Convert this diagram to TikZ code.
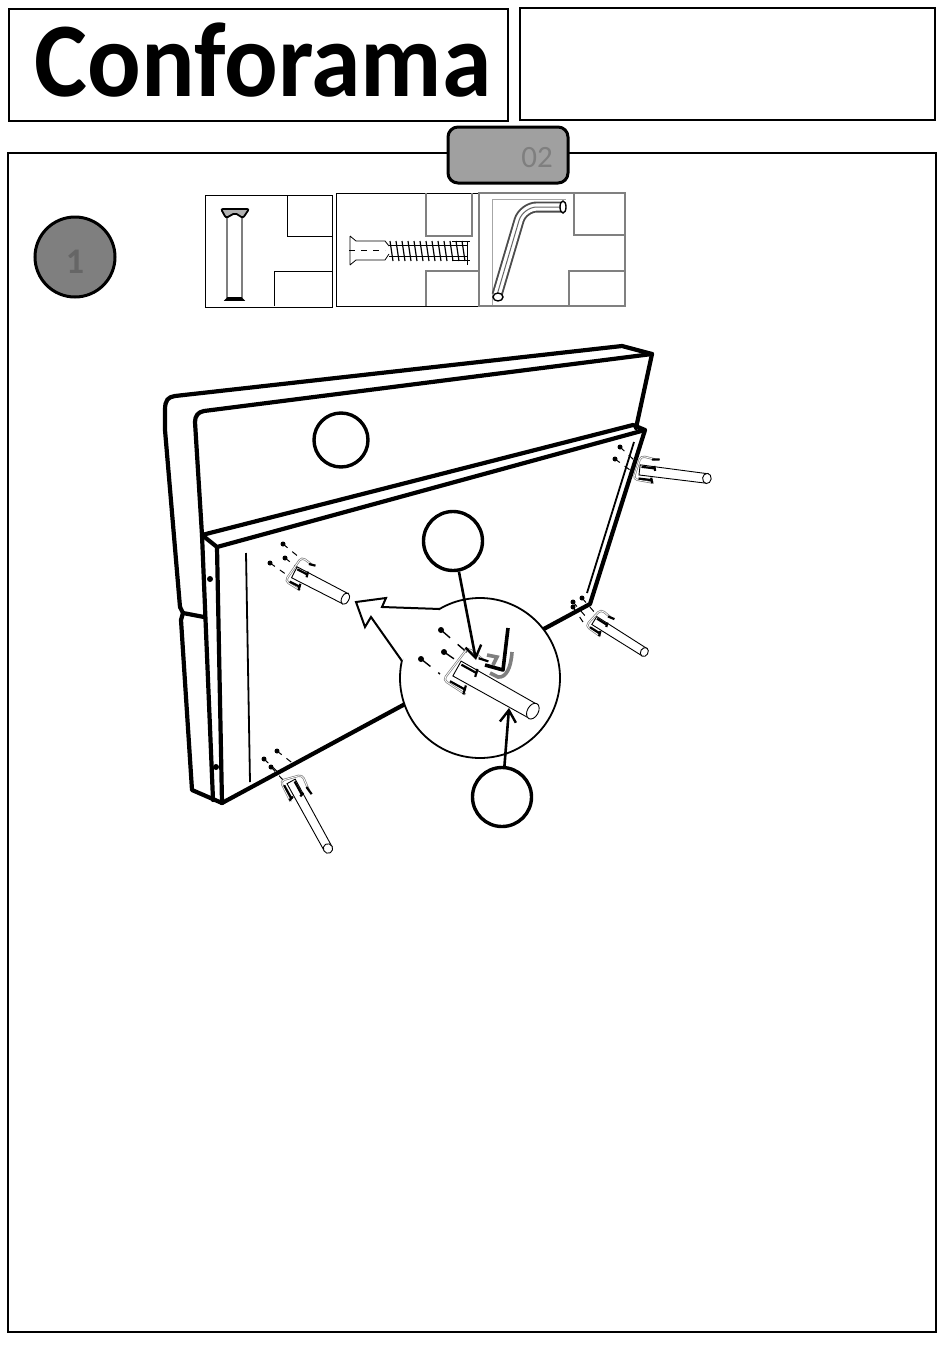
\documentclass[tikz,border=0pt]{standalone}
\usepackage{fontspec}
\setmainfont{Carlito}
\usetikzlibrary{arrows.meta}
\definecolor{darkgrey}{HTML}{7F7F7F}
\definecolor{midgrey}{HTML}{A0A0A0}
\tikzset{
  frame/.style={draw,line width=1.3pt},
  partbox/.style={draw,line width=0.5pt},
  partbox2/.style={draw=gray,line width=0.7pt},
  edge/.style={line width=2.1pt,line join=round,line cap=round},
  marker/.style={circle,draw,line width=1.7pt,fill=white,minimum size=29.5pt,inner sep=0pt},
  pointer/.style={line width=1.3pt,-{Straight Barb[length=6pt,width=8pt,line width=1.2pt]}},
  pics/legpart/.style={code={
    \draw[fill=white,line width=0.45pt] (2,-9) -- (90,-8) -- (88,8) -- (2,8) -- cycle;
    \draw[fill=white,line width=0.45pt] (89,0) ellipse [x radius=5.5,y radius=8.5];
    \draw[gray,line width=1.1pt,rounded corners=2pt] (20,-21) -- (1.5,-24) -- (-4.5,16) -- (22,18);
    \draw[white,line width=0.4pt,rounded corners=2pt] (20,-21) -- (1.5,-24) -- (-4.5,16) -- (22,18);
    \draw[line width=1.1pt] (4,-6) -- (22,-6);
    \draw[line width=1.1pt] (20,-10) -- (22,-2);
    \draw[line width=1.1pt] (2,14) -- (20,14);
    \draw[line width=1.1pt] (18,10) -- (20,19);
    \draw[line width=1.1pt] (16,-20) -- (26,-22);
  }}
}
\begin{document}
\begin{tikzpicture}[x=0.5pt,y=-0.5pt]
\useasboundingbox (0,0) rectangle (950,1360);
% header and page frames
\draw[frame] (9,9) rectangle (508,121);
\draw[frame] (520,8) rectangle (935,120);
\draw[frame] (8,153) rectangle (936,1332);
\node[yscale=1.06] (logo) at (263,60) {\fontsize{50}{50}\selectfont\bfseries Conforama};
\draw[line width=1.5pt,fill=midgrey,rounded corners=5pt] (448,127) rectangle (568,183);
\node[text=darkgrey] (pagenum) at (537,158) {\fontsize{15.5}{15.5}\selectfont 02};
\node[circle,draw,line width=1.5pt,fill=darkgrey,minimum size=40pt,inner sep=0pt] (stepnum) at (75,257) {};
\node[text=black!60] (steplabel) at (75,262) {\fontsize{18}{18}\selectfont\bfseries 1};
% parts boxes
\draw[partbox] (205,195) rectangle (332,307);
\draw[partbox] (287,195) |- (332,236);
\draw[partbox] (274,306) |- (332,271);
\draw[partbox] (336,193) rectangle (479,306);
\draw[partbox2] (426,193) |- (472,236) -- (472,193);
\draw[partbox2] (426,306) |- (479,271);
\draw[partbox2] (479,193) rectangle (625,306);
\draw[partbox2] (574,193) |- (625,235);
\draw[partbox2] (569,306) |- (625,271);
\draw[gray!70,line width=0.3pt] (492,305) |- (566,199);
% bolt
\draw[darkgrey,line width=0.7pt] (227,213) -- (227,298) (242,213) -- (242,298);
\draw[line width=0.9pt,fill=gray!60,rounded corners=1pt] (221,209) -- (249,209) -- (243,218) -- (235,213) -- (226,218) -- cycle;
\draw[line width=0.9pt,fill=gray] (228,298) -- (241,298) -- (243,300) -- (226,300) -- cycle;
% screw
\draw[line width=0.4pt] (350,236) -- (350,265) (350,236) -- (356,241) -- (385,241) -- (389,246)
  (350,265) -- (356,260) -- (385,260) -- (389,254);
\draw[line width=0.3pt,dashed] (349,250) -- (385,250);
\foreach \x in {390,396,...,462} {
\draw[line width=0.6pt] (\x,241) -- (\x+3,261);
}
\draw[line width=0.5pt] (389,245) -- (468,245) (389,256) -- (468,256);
\draw[line width=0.3pt] (452,241) -- (470,241) (452,260) -- (470,260) (467,241) -- (467,265);
% hex key
\draw[black!70,line width=5.5pt,line join=round,rounded corners=7pt] (497,295) -- (523,207) -- (562,207);
\draw[white,line width=3.6pt,line join=round,rounded corners=7pt] (497,295) -- (523,207) -- (562,207);
\draw[black!60,line width=0.5pt,rounded corners=7pt] (497,295) -- (523,207) -- (562,207);
\draw[line width=0.7pt,fill=white] (498,297) ellipse [x radius=5,y radius=4];
\draw[line width=0.7pt,fill=white] (563,207) ellipse [x radius=3,y radius=6];
% headboard
\draw[edge] (180,607) -- (165,430) -- (165,410) .. controls (165,400) and (168,397) .. (175,396)
  -- (622,346) -- (652,354) -- (636,428);
\draw[edge] (652,354) -- (204,411) .. controls (198,412) and (195,416) .. (195,422) -- (202,535);
\draw[edge] (180,607) -- (183,613) -- (204,617);
\draw[edge] (183,613) -- (181,620) -- (192,790) -- (222,803);
\draw[edge] (202,535) -- (213,800);
\draw[edge] (217,547) -- (222,803);
\draw[edge] (202,535) -- (217,547) -- (645,430) -- (633,425) -- cycle;
\draw[edge] (645,430) -- (590,604) -- (222,803);
\draw[line width=0.9pt] (246,553) -- (250,782);
\draw[line width=0.9pt] (634,442) -- (587,593);
\fill (210,579) circle (3);
\fill (216,767) circle (3);
% legs and fixing screws
\foreach \dotx/\doty/\tox/\toy in {283/544/300/558,285/558/302/571,270/563/287/575,
  277/751/295/765,264/759/281/775,271/767/283/780,
  620/447/634/460,615/459/630/470,573/602/587/618,582/598/596/614,573/607/585/625} {
\fill (\dotx,\doty) circle (2.5);
\draw[line width=0.5pt,dashed] (\dotx,\doty) -- (\tox,\toy);
}
\pic[rotate=-27,xscale=.66,yscale=.72] at (293,572) {legpart};
\pic[rotate=-61,xscale=.88,yscale=.55] at (290,780) {legpart};
\pic[rotate=-7,xscale=.78,yscale=.6] at (638,470) {legpart};
\pic[rotate=-32,xscale=.68,yscale=.55] at (593,620) {legpart};
% detail circle and callout
\node[circle,draw,line width=0.9pt,fill=white,minimum size=80pt,inner sep=0pt] (detail) at (480,678) {};
\fill[white] (440,609) -- (382,607) -- (386,598) -- (356,602) -- (365,627) -- (371,617) -- (402,661) -- cycle;
\draw[line width=1pt,line join=miter] (440,609) -- (382,607) -- (386,598) -- (356,602) -- (365,627) -- (371,617) -- (402,661);
\foreach \dotx/\doty/\tox/\toy in {441/630/470/655,444/652/488/682,421/659/440/674} {
\fill (\dotx,\doty) circle (3);
\draw[line width=0.7pt,dashed,dash pattern=on 6pt off 5pt] (\dotx,\doty) -- (\tox,\toy);
}
\pic[rotate=-29] at (455,668) {legpart};
\draw[darkgrey,line width=1.8pt] (487,655) -- (497,657) -- (493,665);
\draw[darkgrey,line width=1.8pt] (512,652) .. controls (511,668) and (506,678) .. (498,677) -- (490,673);
\draw[line width=1.8pt,line join=round] (508,628) -- (503,670) -- (485,665);
% part markers
\node[marker,minimum size=27pt] (headboard) at (341,440) {};
\node[marker] (keylabel) at (453,541) {};
\node[marker] (leglabel) at (502,797) {};
\coordinate (keytip) at (476,660);
\coordinate (legtip) at (509,708);
\draw[pointer] (keylabel) -- (keytip);
\draw[pointer] (leglabel) -- (legtip);
\end{tikzpicture}
\end{document}
